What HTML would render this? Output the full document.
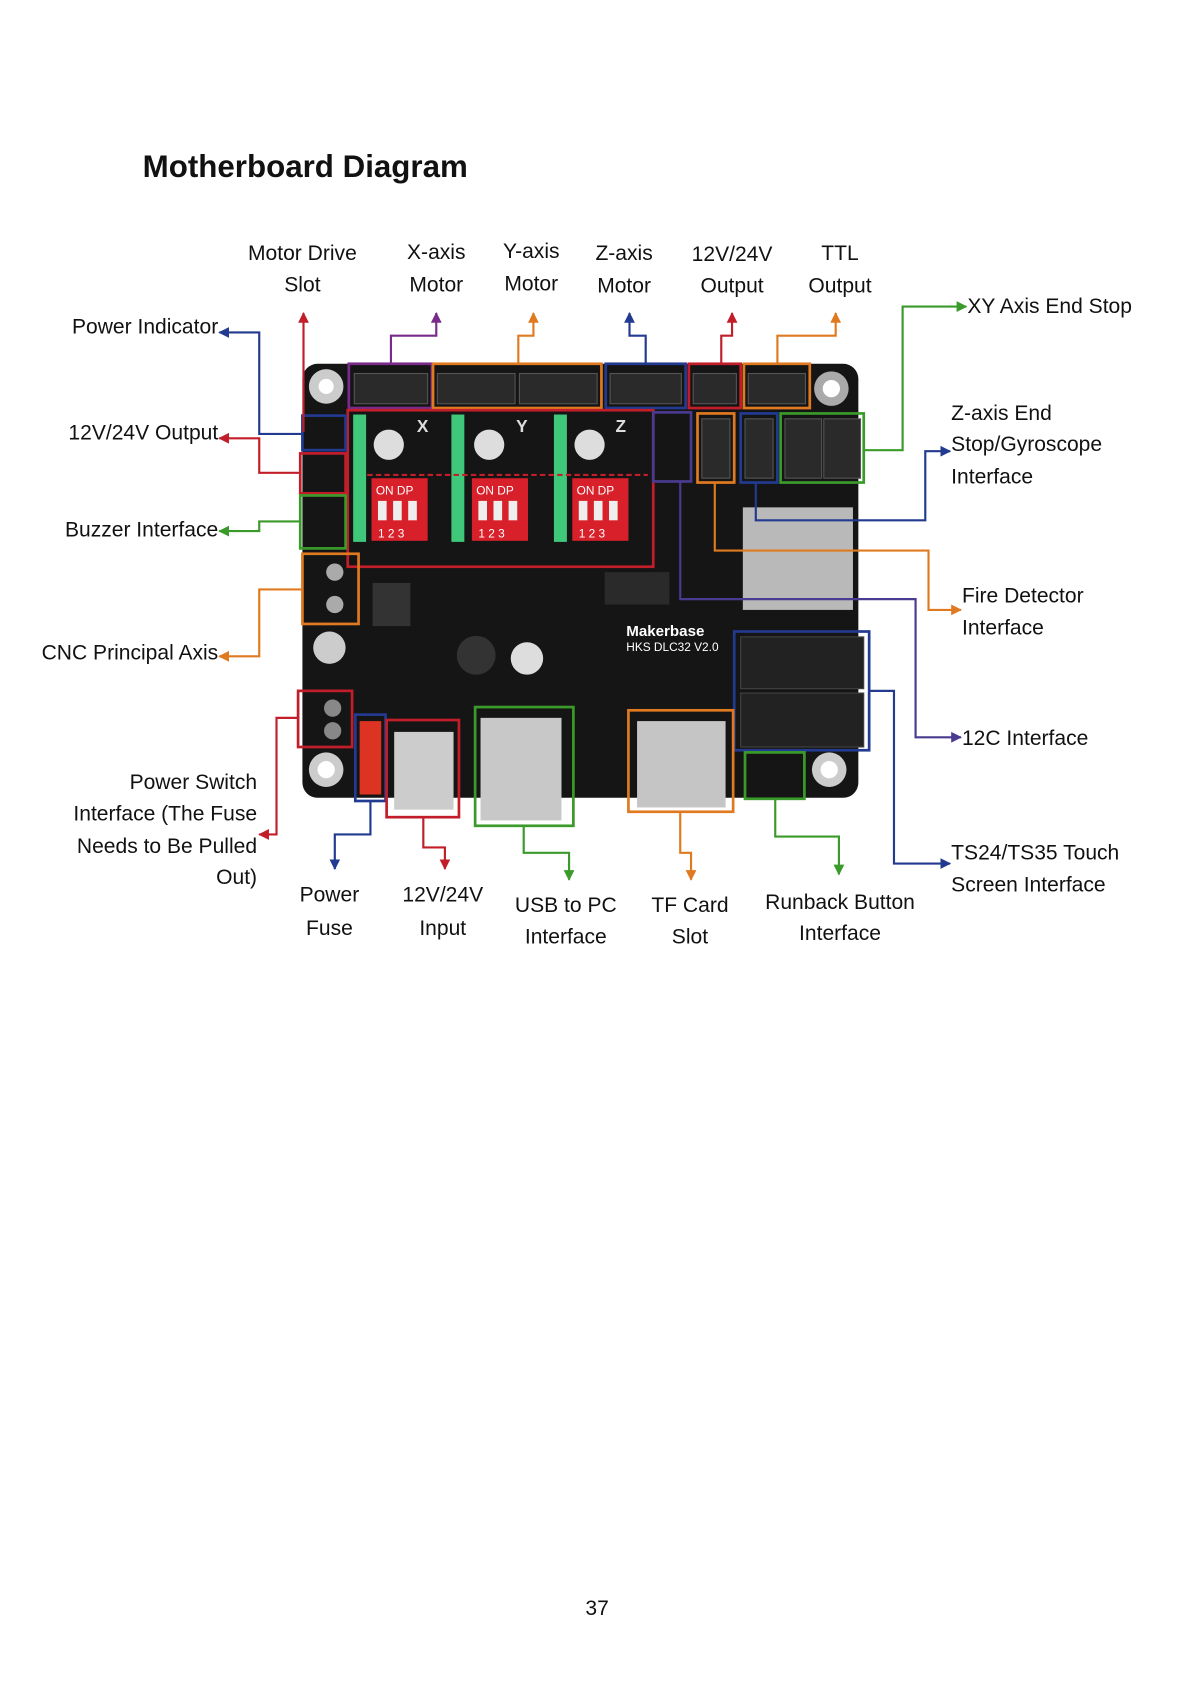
<!DOCTYPE html>
<html><head><meta charset="utf-8"><style>
html,body{margin:0;padding:0;background:#fff;width:1191px;height:1684px;overflow:hidden}
svg{display:block}
text{font-family:"Liberation Sans",sans-serif;fill:#111}
</style></head><body>
<svg width="1191" height="1684" viewBox="0 0 1103 1560" xmlns="http://www.w3.org/2000/svg">
<defs>
<marker id="a" viewBox="0 0 10 10" refX="9" refY="5" markerWidth="5" markerHeight="5" orient="auto-start-reverse"><path d="M0,0L10,5L0,10z" fill="context-stroke"/></marker>
</defs>
<text x="132" y="164" font-size="29" font-weight="bold">Motherboard Diagram</text>

<!-- board -->
<rect x="280" y="337" width="515" height="402" rx="14" fill="#151515"/>
<circle cx="302" cy="358" r="16" fill="#ccc"/><circle cx="302" cy="358" r="7" fill="#fff"/>
<circle cx="770" cy="360" r="16" fill="#aaa"/><circle cx="770" cy="360" r="8" fill="#fff"/>
<circle cx="302" cy="713" r="16" fill="#ccc"/><circle cx="302" cy="713" r="8" fill="#fff"/>
<circle cx="768" cy="713" r="16" fill="#ccc"/><circle cx="768" cy="713" r="8" fill="#fff"/>
<!-- top connector housings -->
<g fill="#2a2a2a" stroke="#555"><rect x="328" y="346" width="68" height="28"/><rect x="405" y="346" width="72" height="28"/><rect x="481" y="346" width="72" height="28"/><rect x="565" y="346" width="66" height="28"/><rect x="642" y="346" width="40" height="28"/><rect x="693" y="346" width="53" height="28"/>
<rect x="650" y="388" width="26" height="55"/><rect x="690" y="388" width="26" height="55"/><rect x="727" y="388" width="34" height="55"/><rect x="763" y="388" width="34" height="55"/></g>
<!-- driver headers -->
<g fill="#3fc77a"><rect x="327" y="384" width="12" height="118"/><rect x="418" y="384" width="12" height="118"/><rect x="513" y="384" width="12" height="118"/></g>
<g fill="#d8202a"><rect x="344" y="443" width="52" height="58"/><rect x="437" y="443" width="52" height="58"/><rect x="530" y="443" width="52" height="58"/></g>
<g fill="#ddd"><circle cx="360" cy="412" r="14"/><circle cx="453" cy="412" r="14"/><circle cx="546" cy="412" r="14"/></g>
<g fill="#eee"><rect x="350" y="464" width="8" height="18"/><rect x="364" y="464" width="8" height="18"/><rect x="378" y="464" width="8" height="18"/>
<rect x="443" y="464" width="8" height="18"/><rect x="457" y="464" width="8" height="18"/><rect x="471" y="464" width="8" height="18"/>
<rect x="536" y="464" width="8" height="18"/><rect x="550" y="464" width="8" height="18"/><rect x="564" y="464" width="8" height="18"/></g>
<g font-size="11"><text x="348" y="458" style="fill:#fff">ON DP</text><text x="441" y="458" style="fill:#fff">ON DP</text><text x="534" y="458" style="fill:#fff">ON DP</text>
<text x="350" y="498" style="fill:#fff">1 2 3</text><text x="443" y="498" style="fill:#fff">1 2 3</text><text x="536" y="498" style="fill:#fff">1 2 3</text></g>
<g font-size="16" font-weight="bold"><text x="386" y="400" style="fill:#ddd">X</text><text x="478" y="400" style="fill:#ddd">Y</text><text x="570" y="400" style="fill:#ddd">Z</text></g>
<!-- esp module -->
<rect x="688" y="470" width="102" height="95" fill="#b9b9b9"/>
<!-- connectors misc -->
<rect x="445" y="665" width="75" height="95" fill="#c8c8c8"/>
<rect x="590" y="668" width="82" height="80" fill="#c5c5c5"/>
<rect x="365" y="678" width="55" height="72" fill="#ccc"/>
<rect x="333" y="668" width="20" height="68" fill="#d32"/>
<rect x="686" y="590" width="114" height="48" fill="#222" stroke="#444"/>
<rect x="686" y="642" width="114" height="50" fill="#222" stroke="#444"/>
<rect x="345" y="540" width="35" height="40" fill="#333"/>
<rect x="560" y="530" width="60" height="30" fill="#2a2a2a"/>
<circle cx="441" cy="607" r="18" fill="#333"/>
<circle cx="488" cy="610" r="15" fill="#ddd"/>
<circle cx="305" cy="600" r="15" fill="#ccc"/>
<circle cx="308" cy="656" r="8" fill="#888"/><circle cx="308" cy="677" r="8" fill="#888"/>
<circle cx="310" cy="530" r="8" fill="#aaa"/><circle cx="310" cy="560" r="8" fill="#aaa"/>
<text x="580" y="589" font-size="14" font-weight="bold" style="fill:#fff">Makerbase</text>
<text x="580" y="603" font-size="11" style="fill:#fff">HKS DLC32 V2.0</text>

<!-- colored boxes -->
<g fill="none" stroke-width="2.5">
<rect x="323" y="337" width="77" height="41" stroke="#7a2a8a"/>
<rect x="401" y="337" width="156" height="41" stroke="#e07a20"/>
<rect x="561" y="337" width="74" height="41" stroke="#223a90"/>
<rect x="638" y="337" width="48" height="41" stroke="#c21e2a"/>
<rect x="689" y="337" width="61" height="41" stroke="#e07a20"/>
<rect x="322" y="380" width="283" height="145" stroke="#c21e2a"/>
<rect x="280" y="385" width="40" height="32" stroke="#223a90"/>
<rect x="278" y="420" width="42" height="37" stroke="#c21e2a"/>
<rect x="278" y="459" width="42" height="49" stroke="#3a9a2a"/>
<rect x="280" y="513" width="52" height="65" stroke="#e07a20"/>
<rect x="605" y="382" width="35" height="64" stroke="#4a3a90"/>
<rect x="646" y="383" width="34" height="64" stroke="#e07a20"/>
<rect x="686" y="383" width="34" height="64" stroke="#223a90"/>
<rect x="723" y="383" width="77" height="64" stroke="#3a9a2a"/>
<rect x="680" y="585" width="125" height="110" stroke="#223a90"/>
<rect x="276" y="640" width="50" height="52" stroke="#c21e2a"/>
<rect x="329" y="662" width="28" height="80" stroke="#223a90"/>
<rect x="358" y="667" width="67" height="90" stroke="#c21e2a"/>
<rect x="440" y="655" width="91" height="110" stroke="#3a9a2a"/>
<rect x="582" y="658" width="97" height="94" stroke="#e07a20"/>
<rect x="690" y="697" width="55" height="43" stroke="#3a9a2a"/>
</g>
<path d="M340,440H600" stroke="#c21e2a" stroke-width="2" stroke-dasharray="5,3" fill="none"/>

<!-- connectors -->
<g fill="none" stroke-width="2" marker-end="url(#a)">
<path d="M281,400V290" stroke="#c21e2a"/>
<path d="M362,337V311H404V290" stroke="#7a2a8a"/>
<path d="M480,337V311H494V290" stroke="#e07a20"/>
<path d="M598,337V311H583V290" stroke="#223a90"/>
<path d="M668,337V311H678V290" stroke="#c21e2a"/>
<path d="M720,337V311H774V290" stroke="#e07a20"/>
<path d="M280,402H240V308H203" stroke="#223a90"/>
<path d="M278,438H240V406H203" stroke="#c21e2a"/>
<path d="M278,483H240V492H203" stroke="#3a9a2a"/>
<path d="M280,546H240V608H203" stroke="#e07a20"/>
<path d="M276,665H256V773H240" stroke="#c21e2a"/>
<path d="M343,742V773H310V805" stroke="#223a90"/>
<path d="M392,757V785H412V805" stroke="#c21e2a"/>
<path d="M485,765V790H527V815" stroke="#3a9a2a"/>
<path d="M630,752V790H640V815" stroke="#e07a20"/>
<path d="M718,740V775H777V810" stroke="#3a9a2a"/>
<path d="M800,417H836V284H895" stroke="#3a9a2a"/>
<path d="M700,447V482H857V418H880" stroke="#223a90"/>
<path d="M662,447V510H860V565H890" stroke="#e07a20"/>
<path d="M630,446V555H848V683H890" stroke="#4a3a90"/>
<path d="M805,640H828V800H880" stroke="#223a90"/>
</g>

<g font-size="19.5">
<g text-anchor="middle">
<text x="280" y="241">Motor Drive</text><text x="280" y="270">Slot</text>
<text x="404" y="240">X-axis</text><text x="404" y="270">Motor</text>
<text x="492" y="239">Y-axis</text><text x="492" y="269">Motor</text>
<text x="578" y="241">Z-axis</text><text x="578" y="271">Motor</text>
<text x="678" y="242">12V/24V</text><text x="678" y="271">Output</text>
<text x="778" y="241">TTL</text><text x="778" y="271">Output</text>
<text x="305" y="835">Power</text><text x="305" y="866">Fuse</text>
<text x="410" y="835">12V/24V</text><text x="410" y="866">Input</text>
<text x="524" y="845">USB to PC</text><text x="524" y="874">Interface</text>
<text x="639" y="845">TF Card</text><text x="639" y="874">Slot</text>
<text x="778" y="842">Runback Button</text><text x="778" y="871">Interface</text>
</g>
<g text-anchor="end">
<text x="202" y="309">Power Indicator</text>
<text x="202" y="407">12V/24V Output</text>
<text x="202" y="497">Buzzer Interface</text>
<text x="202" y="611">CNC Principal Axis</text>
<text x="238" y="731">Power Switch</text>
<text x="238" y="760">Interface (The Fuse</text>
<text x="238" y="790">Needs to Be Pulled</text>
<text x="238" y="819">Out)</text>
</g>
<text x="896" y="290">XY Axis End Stop</text>
<text x="881" y="389">Z-axis End</text>
<text x="881" y="418">Stop/Gyroscope</text>
<text x="881" y="448">Interface</text>
<text x="891" y="558">Fire Detector</text>
<text x="891" y="588">Interface</text>
<text x="891" y="690">12C Interface</text>
<text x="881" y="796">TS24/TS35 Touch</text>
<text x="881" y="826">Screen Interface</text>
<text x="553" y="1496" text-anchor="middle">37</text>
</g>
</svg>
</body></html>
